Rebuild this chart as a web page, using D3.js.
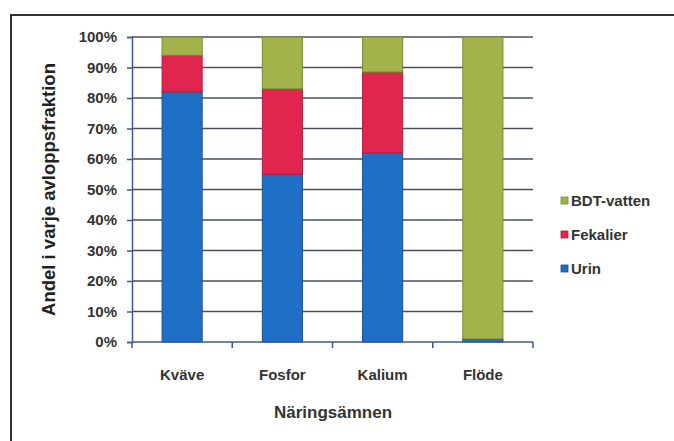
<!DOCTYPE html>
<html><head><meta charset="utf-8">
<script src="https://cdn.jsdelivr.net/npm/d3@7/dist/d3.min.js"></script>
<style>
body{margin:0;background:#fff;}
svg{display:block;font-family:"Liberation Sans",Arial,sans-serif;}
</style></head>
<body><svg id="chart" width="674" height="441"></svg>
<script>
const categories = ["Kväve", "Fosfor", "Kalium", "Flöde"];
const seriesNames = ["Urin", "Fekalier", "BDT-vatten"];
const urin = [82, 55, 62, 0.8];
const fekalier = [12, 28, 26.5, 0.2];
const bdt = [6, 17, 11.5, 99];
const yTicks = [0,10,20,30,40,50,60,70,80,90,100];
const colors = ["#1f6fc6", "#e0264f", "#a3b24a"];
const strokes = ["#1a4f95", "#b51d3e", "#6f8f2e"];

const svg = d3.select("#chart");
const m = {left:132, right:141, top:37, bottom:99};
const W = 674, H = 441;
const pw = W - m.left - m.right, ph = H - m.top - m.bottom;

// frame
svg.append("path").attr("d", `M11,441 L11,15 L674,15`).attr("fill","none")
  .attr("stroke","#333").attr("stroke-width",2);

const x = d3.scaleBand().domain(categories).range([m.left, m.left+pw]).paddingInner(0.6).paddingOuter(0.3);
const y = d3.scaleLinear().domain([0,100]).range([m.top+ph, m.top]);

// gridlines
svg.append("g").selectAll("line").data(yTicks.slice(1)).join("line")
  .attr("x1", m.left).attr("x2", m.left+pw)
  .attr("y1", d=>y(d)).attr("y2", d=>y(d))
  .attr("stroke","#4a4f60").attr("stroke-width",1.5);

const table = categories.map((c,i)=>({cat:c, "Urin":urin[i], "Fekalier":fekalier[i], "BDT-vatten":bdt[i]}));
const stack = d3.stack().keys(seriesNames)(table);

svg.append("g").selectAll("g").data(stack).join("g")
  .attr("fill",(d,i)=>colors[i]).attr("stroke",(d,i)=>strokes[i]).attr("stroke-width",1)
  .selectAll("rect").data(d=>d).join("rect")
  .attr("x", d=>x(d.data.cat)).attr("width", x.bandwidth())
  .attr("y", d=>y(d[1])).attr("height", d=>Math.max(0, y(d[0])-y(d[1])));

// y axis
const ya = d3.axisLeft(y).tickValues(yTicks).tickFormat(d=>d+"%").tickSize(5).tickPadding(10);
const gy = svg.append("g").attr("transform",`translate(${m.left},0)`).call(ya);
gy.select(".domain").attr("stroke","#3d5a8a").attr("stroke-width",1.5);
gy.selectAll(".tick line").attr("stroke","#3d5a8a").attr("stroke-width",1.5);
gy.selectAll("text").attr("font-size",15).attr("font-weight","bold").attr("fill","#333");

// x axis
const gx = svg.append("g").attr("transform",`translate(0,${m.top+ph})`);
gx.append("line").attr("x1",m.left).attr("x2",m.left+pw).attr("stroke","#3d5a8a").attr("stroke-width",1.5);
const step = pw/categories.length;
gx.selectAll("line.t").data(d3.range(categories.length+1)).join("line").attr("class","t")
  .attr("x1",i=>m.left+i*step).attr("x2",i=>m.left+i*step).attr("y1",0).attr("y2",6)
  .attr("stroke","#3d5a8a").attr("stroke-width",1.5);
gx.selectAll("text").data(categories).join("text")
  .attr("x", d=>x(d)+x.bandwidth()/2).attr("y", 38).attr("text-anchor","middle")
  .attr("font-size",15).attr("font-weight","bold").attr("fill","#333").text(d=>d);

// axis titles
svg.append("text").attr("x", 333).attr("y", 418).attr("text-anchor","middle")
  .attr("font-size",17).attr("font-weight","bold").attr("fill","#333").text("Näringsämnen");
svg.append("text").attr("transform",`translate(55,${m.top+ph/2}) rotate(-90)`).attr("text-anchor","middle")
  .attr("font-size",18.5).attr("font-weight","bold").attr("fill","#222").text("Andel i varje avloppsfraktion");

// legend
const leg = [2,1,0];
const lg = svg.append("g").selectAll("g").data(leg).join("g")
  .attr("transform",(d,i)=>`translate(561,${201+i*34})`);
lg.append("rect").attr("x",0).attr("y",-4).attr("width",7).attr("height",7)
  .attr("fill",d=>colors[d]).attr("stroke",d=>strokes[d]).attr("stroke-width",0.8);
lg.append("text").attr("x",10).attr("y",5).attr("font-size",15).attr("font-weight","bold").attr("fill","#333")
  .text(d=>seriesNames[d]);
</script></body></html>
